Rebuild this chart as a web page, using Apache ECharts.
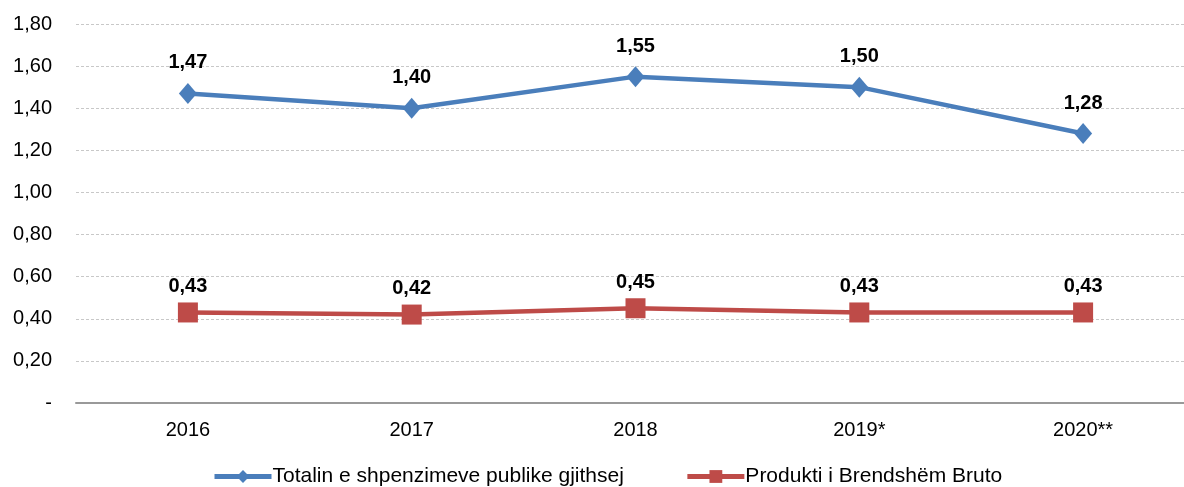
<!DOCTYPE html>
<html>
<head>
<meta charset="utf-8">
<script src="https://cdn.jsdelivr.net/npm/echarts@6/dist/echarts.min.js"></script>
<style>
  html, body { margin: 0; padding: 0; background: #fff; }
  #chart { width: 1184px; height: 487px; }
</style>
</head>
<body>
<div id="chart"></div>
<script>
const years = ["2016", "2017", "2018", "2019*", "2020**"];
const totalShare = [1.47, 1.40, 1.55, 1.50, 1.28];
const gdpShare = [0.43, 0.42, 0.45, 0.43, 0.43];
const seriesNames = ["Totalin e shpenzimeve publike gjithsej", "Produkti i Brendshëm Bruto"];

const fmt = v => v.toFixed(2).replace(".", ",");
const font = "Liberation Sans, Arial, sans-serif";

const dataLabel = (dist) => ({
  show: true,
  position: "top",
  distance: dist,
  fontSize: 20,
  fontWeight: "bold",
  color: "#000",
  fontFamily: font,
  formatter: p => fmt(p.value)
});

const chart = echarts.init(document.getElementById("chart"));
chart.setOption({
  animation: false,
  textStyle: { fontFamily: font },
  grid: { left: 76, width: 1119, top: 24, bottom: 84, outerBoundsMode: "none" },
  legend: {
    top: 461,
    left: 207,
    itemGap: 61,
    itemWidth: 57,
    itemHeight: 16,
    textStyle: { fontSize: 21, color: "#000", fontFamily: font, padding: [0, 0, 0, -4] },
    lineStyle: { width: 5 },
    data: seriesNames
  },
  xAxis: {
    type: "category",
    data: years,
    axisTick: { show: false },
    axisLine: { lineStyle: { color: "#999", width: 2 } },
    axisLabel: { color: "#000", fontSize: 20, margin: 17 }
  },
  yAxis: {
    type: "value",
    min: 0,
    max: 1.8,
    interval: 0.2,
    axisLine: { show: false },
    axisTick: { show: false },
    axisLabel: {
      color: "#000",
      fontSize: 20,
      margin: 24,
      formatter: v => (v === 0 ? "-" : fmt(v))
    },
    splitLine: { lineStyle: { color: "#c8c8c8", type: [3, 2] } }
  },
  series: [
    {
      name: seriesNames[0],
      type: "line",
      data: totalShare,
      symbol: "diamond",
      symbolSize: [18, 21],
      color: "#4a7ebb",
      lineStyle: { width: 4.5, color: "#4a7ebb" },
      itemStyle: { color: "#4a7ebb" },
      label: dataLabel(10)
    },
    {
      name: seriesNames[1],
      type: "line",
      data: gdpShare,
      symbol: "rect",
      symbolSize: 20,
      color: "#be4b48",
      lineStyle: { width: 4.5, color: "#be4b48" },
      itemStyle: { color: "#be4b48" },
      label: dataLabel(6)
    }
  ]
});
</script>
</body>
</html>
